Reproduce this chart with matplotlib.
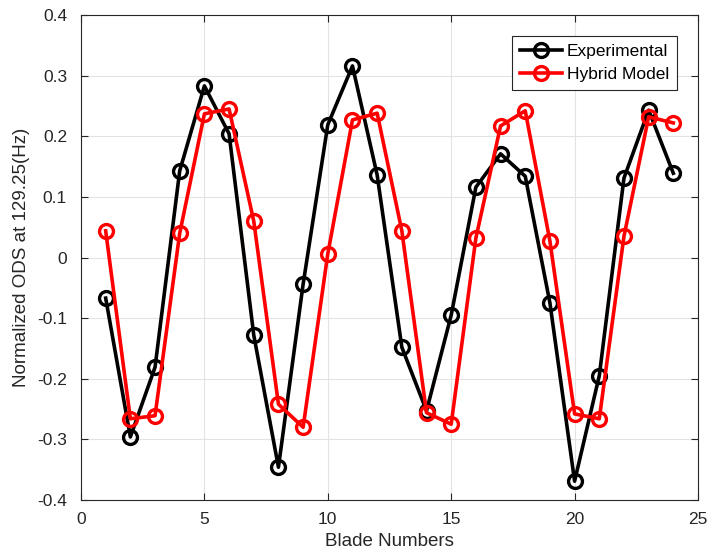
import numpy as np
import matplotlib.pyplot as plt

plt.rcParams['font.family'] = ['Liberation Sans', 'DejaVu Sans']

# --- Data ---
blades = np.arange(1, 25)
experimental = [-0.067, -0.296, -0.181, 0.143, 0.283, 0.204, -0.128, -0.346,
                -0.044, 0.219, 0.316, 0.136, -0.148, -0.253, -0.095, 0.116,
                0.171, 0.134, -0.075, -0.369, -0.195, 0.131, 0.243, 0.139]
hybrid = [0.044, -0.266, -0.261, 0.040, 0.237, 0.245, 0.060, -0.242,
          -0.280, 0.006, 0.227, 0.238, 0.044, -0.256, -0.275, 0.032,
          0.217, 0.242, 0.027, -0.258, -0.266, 0.035, 0.232, 0.222]
xticks = [0, 5, 10, 15, 20, 25]
yticks = [-0.4, -0.3, -0.2, -0.1, 0, 0.1, 0.2, 0.3, 0.4]
yticklabels = ['-0.4', '-0.3', '-0.2', '-0.1', '0', '0.1', '0.2', '0.3', '0.4']

# --- Figure ---
fig = plt.figure(figsize=(7.07, 5.55), dpi=100)
ax = fig.add_axes([81 / 707, 55 / 555, 617 / 707, 485 / 555])

ax.plot(blades, experimental, '-o', color='black', lw=2.6, ms=10,
        mfc='none', mew=2.4, label='Experimental', zorder=3)
ax.plot(blades, hybrid, '-o', color='red', lw=2.6, ms=10,
        mfc='none', mew=2.4, label='Hybrid Model', zorder=4)

ax.set_xlim(0, 25)
ax.set_ylim(-0.4, 0.4)
ax.set_xticks(xticks)
ax.set_yticks(yticks)
ax.set_yticklabels(yticklabels)
ax.tick_params(direction='in', top=True, right=True, labelsize=12.5,
               colors='#262626', length=5)
ax.tick_params(axis='x', pad=9)
ax.tick_params(axis='y', pad=10)
ax.grid(True, color='#e3e3e3', lw=0.8)
ax.set_axisbelow(True)
for s in ax.spines.values():
    s.set_color('#262626')
    s.set_linewidth(0.8)

ax.set_xlabel('Blade Numbers', fontsize=13.5, color='#262626', labelpad=4)
ax.set_ylabel('Normalized ODS at 129.25(Hz)', fontsize=13.5, color='#262626', labelpad=5)

leg = ax.legend(loc='upper right', fontsize=12.5, fancybox=False, edgecolor='#262626',
                framealpha=1, borderaxespad=1.2, handlelength=2.4,
                borderpad=0.45, labelspacing=0.45, handletextpad=0.3)
leg.get_frame().set_linewidth(0.8)

fig.savefig('out.png', dpi=100)
